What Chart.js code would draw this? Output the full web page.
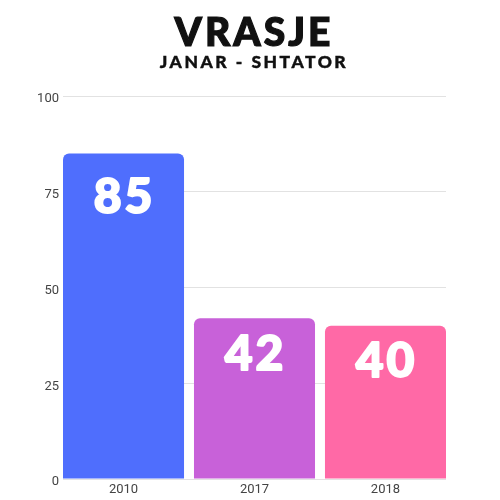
<!DOCTYPE html>
<html>
<head>
<meta charset="utf-8">
<script src="https://cdn.jsdelivr.net/npm/chart.js@4"></script>
<style>
  body { margin: 0; background: #fff; }
  #wrap { position: relative; width: 500px; height: 500px; }
  .title { position: absolute; left: 4px; width: 500px; text-align: center; font-family: "Lato Black", Lato, sans-serif; color: #111; margin: 0; }
  #t1 { top: 8px; font-size: 39px; font-weight: 900; letter-spacing: 3px; line-height: 46px; -webkit-text-stroke: 1.2px #111; }
  #t2 { top: 50px; font-size: 17.5px; font-weight: 900; letter-spacing: 2.5px; line-height: 24px; -webkit-text-stroke: 0.4px #111; }
</style>
</head>
<body>
<div id="wrap">
  <canvas id="myBarChart" width="500" height="500"></canvas>
  <h1 class="title" id="t1">VRASJE</h1>
  <h2 class="title" id="t2">JANAR - SHTATOR</h2>
</div>
<script>
const years = ['2010', '2017', '2018'];
const values = [85, 42, 40];
const barColors = ['#4F6EFD', '#C861D9', '#FF69A6'];
const yTicks = [0, 25, 50, 75, 100];

// white numbers inside the top of each bar
const barLabels = {
    id: 'barLabels',
    afterDatasetsDraw(chart) {
        const ctx = chart.ctx;
        const meta = chart.getDatasetMeta(0);
        ctx.save();
        ctx.font = '900 48px "Lato Black", Lato, sans-serif';
        ctx.letterSpacing = '3px';
        ctx.fillStyle = '#fff';
        ctx.strokeStyle = '#fff';
        ctx.lineWidth = 2;
        ctx.lineJoin = 'round';
        ctx.textAlign = 'center';
        ctx.textBaseline = 'top';
        meta.data.forEach((bar, i) => {
            const h = bar.base - bar.y;
            const y = bar.y + 4 + h * 0.05;
            ctx.fillText(String(values[i]), bar.x + 1, y);
            ctx.strokeText(String(values[i]), bar.x + 1, y);
        });
        ctx.restore();
    }
};

const data = {
    labels: years,
    datasets: [{
        data: values,
        backgroundColor: barColors,
        borderRadius: 6,
        borderSkipped: 'start',
        barPercentage: 0.924,
        categoryPercentage: 1,
    }]
};

const config = {
    type: 'bar',
    data: data,
    options: {
        responsive: false,
        animation: false,
        layout: { padding: { top: 96, right: 54, left: 0, bottom: 0 } },
        plugins: {
            legend: { display: false },
            tooltip: { enabled: false }
        },
        scales: {
            x: {
                grid: { display: false, drawTicks: false },
                border: { display: false },
                ticks: { color: '#444', font: { family: 'Roboto', size: 13 }, padding: 3 },
                // bars run flush with both ends of the grid, so stretch the category range a bit
                afterBuildTicks(scale) {
                    scale._startValue = -0.462;
                    scale._valueRange = 2.924;
                },
                afterFit(scale) { scale.height = 21; }
            },
            y: {
                min: 0,
                max: 100,
                afterBuildTicks(scale) { scale.ticks = yTicks.map(v => ({ value: v })); },
                grid: { color: '#e2e2e2', drawTicks: false },
                border: { display: false },
                ticks: { color: '#444', font: { family: 'Roboto', size: 13 }, padding: 4, labelOffset: 3 },
                afterFit(scale) { scale.width = 63; }
            }
        }
    },
    plugins: [barLabels]
};

const barChart = new Chart(document.querySelector('#myBarChart'), config);
</script>
</body>
</html>
